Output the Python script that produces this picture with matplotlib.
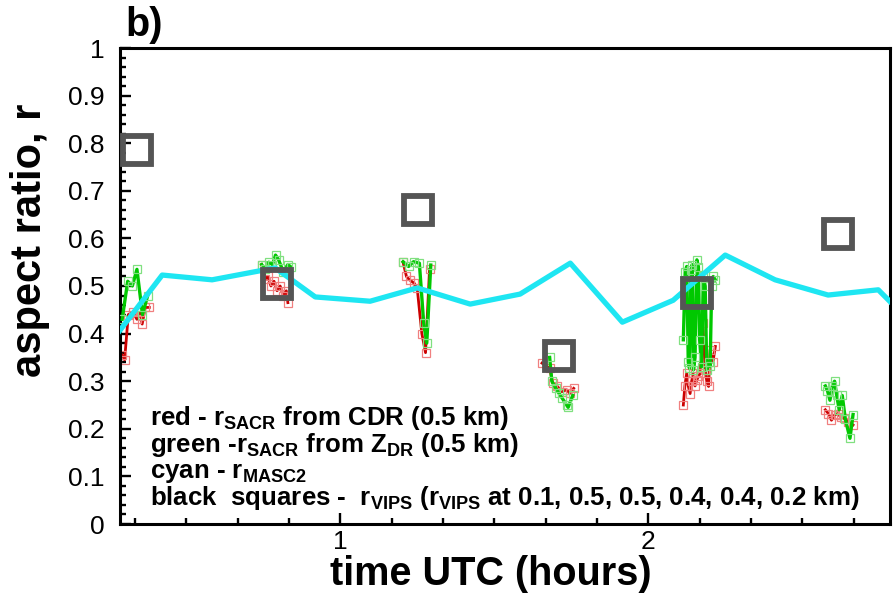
import matplotlib
matplotlib.use('Agg')
import matplotlib.pyplot as plt
from matplotlib.ticker import MultipleLocator, FuncFormatter

plt.rcParams['font.family'] = 'Liberation Sans'
plt.rcParams['mathtext.fontset'] = 'custom'
plt.rcParams['mathtext.rm'] = 'Liberation Sans:bold'
plt.rcParams['mathtext.it'] = 'Liberation Sans:bold'
plt.rcParams['mathtext.bf'] = 'Liberation Sans:bold'

# --- data (time UTC in hours, aspect ratio r) ---
# r_SACR from CDR (red)
t_red = [0.292, 0.300, 0.312, 0.327, 0.340, 0.350, 0.357, 0.367, 0.380,
         None,
         0.745, 0.757, 0.765, 0.775, 0.785, 0.795, 0.805, 0.815, 0.825, 0.830,
         None,
         1.204, 1.215, 1.225, 1.240, 1.250, 1.265, 1.277, 1.290,
         None,
         1.655, 1.680, 1.690, 1.705, 1.720, 1.735, 1.745, 1.758,
         None,
         2.114, 2.119, 2.125, 2.130, 2.136, 2.141, 2.147, 2.152, 2.158, 2.163,
         2.169, 2.177, 2.185, 2.190, 2.196, 2.201, 2.210, 2.218,
         None,
         2.575, 2.585, 2.595, 2.605, 2.615, 2.625, 2.635, 2.650, 2.665]
r_red = [0.355, 0.345, 0.440, 0.445, 0.430, 0.445, 0.420, 0.455, 0.455,
         None,
         0.545, 0.515, 0.520, 0.500, 0.510, 0.490, 0.500, 0.480, 0.490, 0.465,
         None,
         0.550, 0.520, 0.513, 0.506, 0.495, 0.400, 0.360, 0.535,
         None,
         0.338, 0.327, 0.296, 0.289, 0.278, 0.282, 0.275, 0.285,
         None,
         0.250, 0.290, 0.317, 0.290, 0.274, 0.300, 0.317, 0.290, 0.303, 0.310,
         0.317, 0.422, 0.324, 0.300, 0.289, 0.366, 0.340, 0.373,
         None,
         0.240, 0.232, 0.218, 0.229, 0.232, 0.225, 0.222, 0.215, 0.208]

# r_SACR from ZDR (green)
t_grn = [0.292, 0.310, 0.325, 0.340, 0.358, 0.375,
         None,
         0.745, 0.755, 0.768, 0.780, 0.790, 0.800, 0.815, 0.830, 0.840,
         None,
         1.204, 1.222, 1.238, 1.257, 1.271, 1.281, 1.294,
         None,
         1.680, 1.687, 1.700, 1.710, 1.720, 1.735, 1.740, 1.755,
         None,
         2.114, 2.120, 2.125, 2.130, 2.134, 2.139, 2.143, 2.147, 2.152, 2.158,
         2.163, 2.167, 2.173, 2.179, 2.185, 2.190, 2.196, 2.201, 2.206, 2.211,
         2.218,
         None,
         2.575, 2.582, 2.590, 2.598, 2.605, 2.612, 2.620, 2.630, 2.640, 2.655,
         2.665]
r_grn = [0.430, 0.510, 0.500, 0.535, 0.440, 0.480,
         None,
         0.545, 0.535, 0.550, 0.545, 0.565, 0.555, 0.530, 0.545, 0.540,
         None,
         0.551, 0.541, 0.551, 0.548, 0.422, 0.380, 0.544,
         None,
         0.350, 0.300, 0.285, 0.275, 0.265, 0.250, 0.245, 0.270,
         None,
         0.387, 0.530, 0.541, 0.340, 0.327, 0.534, 0.545, 0.324, 0.350, 0.555,
         0.540, 0.387, 0.330, 0.520, 0.500, 0.324, 0.340, 0.331, 0.500, 0.520,
         0.513,
         None,
         0.290, 0.280, 0.260, 0.290, 0.300, 0.270, 0.240, 0.270, 0.220, 0.180,
         0.230]

# r_MASC2 (cyan)
t_masc = [0.259, 0.422, 0.584, 0.789, 0.919, 1.097, 1.250, 1.422, 1.584,
          1.747, 1.916, 2.081, 2.250, 2.412, 2.584, 2.747, 2.950]
r_masc = [0.385, 0.523, 0.513, 0.538, 0.477, 0.468, 0.496, 0.462, 0.483,
          0.548, 0.424, 0.470, 0.565, 0.513, 0.481, 0.492, 0.360]

# r_VIPS (black squares)
t_vips = [0.341, 0.795, 1.253, 1.711, 2.159, 2.617]
r_vips = [0.785, 0.504, 0.660, 0.353, 0.485, 0.609]

# replace None with nan for gaps
nan = float('nan')
t_red = [nan if v is None else v for v in t_red]
r_red = [nan if v is None else v for v in r_red]
t_grn = [nan if v is None else v for v in t_grn]
r_grn = [nan if v is None else v for v in r_grn]

fig = plt.figure(figsize=(8.93, 5.94), dpi=100)
ax = fig.add_axes([120/893, 1-524/594, 770/893, 476/594])

ax.plot(t_red, r_red, color='#CC0000', lw=2.0, marker='s', ms=6,
        mfc='none', mec='#F08080', mew=0.9, zorder=2)
ax.plot(t_grn, r_grn, color='#00C800', lw=2.4, marker='s', ms=6,
        mfc='none', mec='#80E080', mew=0.9, zorder=3)
ax.plot(t_masc, r_masc, color='#1EE6F2', lw=3.8, zorder=4)
ax.plot(t_vips, r_vips, ls='none', marker='s', ms=20, mfc='none',
        mec='#555555', mew=4.2, zorder=5)

ax.set_xlim(0.285, 2.785)
ax.set_ylim(0, 1)
ax.xaxis.set_major_locator(MultipleLocator(1))
ax.xaxis.set_minor_locator(MultipleLocator(1/6))
ax.yaxis.set_major_locator(MultipleLocator(0.1))
ax.yaxis.set_minor_locator(MultipleLocator(0.02))
ax.yaxis.set_major_formatter(FuncFormatter(lambda v, p: '%g' % round(v, 2)))
ax.xaxis.set_major_formatter(FuncFormatter(lambda v, p: '%g' % v))

ax.tick_params(which='both', direction='in', width=1.7, labelsize=19)
ax.tick_params(which='major', length=8)
ax.tick_params(which='minor', length=4.5)
ax.tick_params(axis='y', pad=11)
ax.tick_params(axis='x', pad=4)
for s in ax.spines.values():
    s.set_linewidth(2.2)

# legend-like text block
lines = [
    'red - r$_{\\mathrm{SACR}}$ from CDR (0.5 km)',
    'green -r$_{\\mathrm{SACR}}$ from Z$_{\\mathrm{DR}}$ (0.5 km)',
    'cyan - r$_{\\mathrm{MASC2}}$',
    'black  squares -  r$_{\\mathrm{VIPS}}$ (r$_{\\mathrm{VIPS}}$ at 0.1, 0.5, 0.5, 0.4, 0.4, 0.2 km)',
]
baselines = [425, 452, 478, 505]
for txt, yb in zip(lines, baselines):
    fig.text(150/893, 1 - yb/594, txt, fontsize=18.6, fontweight='bold',
             ha='left', va='baseline')

fig.text(491/893, 1 - 585/594, 'time UTC (hours)', fontsize=28.5,
         fontweight='bold', ha='center', va='baseline')
fig.text(30/893, 1 - 240/594, 'aspect ratio, r', fontsize=30,
         fontweight='bold', ha='center', va='center', rotation=90)
fig.text(125/893, 1 - 36/594, 'b)', fontsize=28.5, fontweight='bold',
         ha='left', va='baseline')

fig.savefig('out.png', dpi=100)
